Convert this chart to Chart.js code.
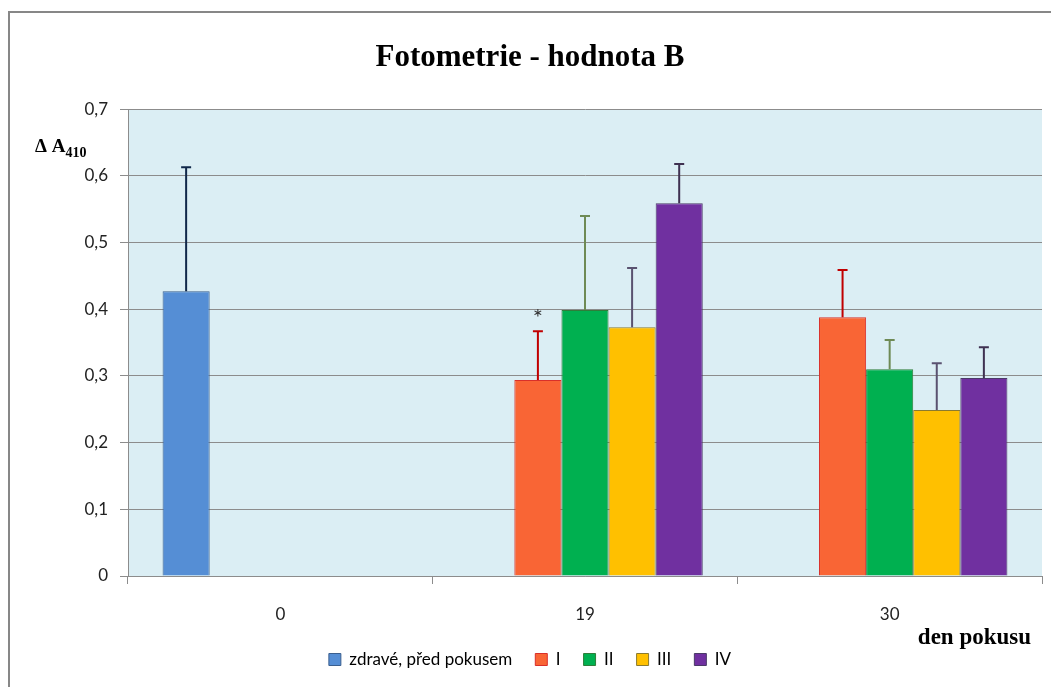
<!DOCTYPE html>
<html>
<head>
<meta charset="utf-8">
<script src="https://cdn.jsdelivr.net/npm/chart.js@4"></script>
<style>
  html, body { margin: 0; padding: 0; background: #ffffff; }
  #wrap { width: 1051px; height: 687px; position: relative; }
</style>
</head>
<body>
<div id="wrap"><canvas id="chart"></canvas></div>
<script>
// categories = day of the experiment
const days = ['0', '19', '30'];
const seriesNames = ['zdravé, před pokusem', 'I', 'II', 'III', 'IV'];

// mean values per series (null = no bar)
const healthy = [0.427, null, null];
const groupI = [null, 0.294, 0.388];
const groupII = [null, 0.399, 0.310];
const groupIII = [null, 0.373, 0.249];
const groupIV = [null, 0.559, 0.297];

// upper end of error bars
const healthyErr = [0.613, null, null];
const groupIErr = [null, 0.367, 0.459];
const groupIIErr = [null, 0.540, 0.354];
const groupIIIErr = [null, 0.462, 0.319];
const groupIVErr = [null, 0.618, 0.343];

const yTicks = [0, 0.1, 0.2, 0.3, 0.4, 0.5, 0.6, 0.7];

const fills = ['#558ed5', '#f96535', '#00b050', '#ffc000', '#7030a0'];
const borders = ['#3a5f8f', '#d9302a', '#2f7d3a', '#8a7a30', '#4b3a68'];
const errColors = ['#10284a', '#c00000', '#6e8a55', '#5a5270', '#3f3151'];

const values = [healthy, groupI, groupII, groupIII, groupIV];
const errs = [healthyErr, groupIErr, groupIIErr, groupIIIErr, groupIVErr];

const sansFont = 'Lato, "Liberation Sans", sans-serif';
const serifFont = '"Liberation Serif", "DejaVu Serif", serif';

// light blue plot background + outer frame
const backgroundPlugin = {
  id: 'plotBackground',
  beforeDraw(chart) {
    const {ctx, chartArea} = chart;
    ctx.save();
    ctx.fillStyle = '#ffffff';
    ctx.fillRect(0, 0, chart.width, chart.height);
    ctx.fillStyle = '#dbeef4';
    ctx.fillRect(chartArea.left, chartArea.top, chartArea.right - chartArea.left, chartArea.bottom - chartArea.top);
    ctx.strokeStyle = '#878787';
    ctx.lineWidth = 2;
    ctx.beginPath();
    ctx.moveTo(9, chart.height);
    ctx.lineTo(9, 12);
    ctx.lineTo(chart.width, 12);
    ctx.stroke();
    ctx.restore();
  }
};

// upward error bars, axis titles and significance star
const errorBarPlugin = {
  id: 'errorBars',
  afterDatasetsDraw(chart) {
    const {ctx} = chart;
    const yScale = chart.scales.y;
    const xScale = chart.scales.x;
    ctx.save();
    errs.forEach((errArr, di) => {
      const meta = chart.getDatasetMeta(di);
      errArr.forEach((e, i) => {
        if (e === null) return;
        const bar = meta.data[i];
        const yTop = yScale.getPixelForValue(e);
        ctx.strokeStyle = errColors[di];
        ctx.lineWidth = 2;
        ctx.beginPath();
        ctx.moveTo(bar.x, bar.y);
        ctx.lineTo(bar.x, yTop);
        ctx.moveTo(bar.x - 5, yTop);
        ctx.lineTo(bar.x + 5, yTop);
        ctx.stroke();
      });
    });

    // star over group I on day 19
    const starBar = chart.getDatasetMeta(1).data[1];
    ctx.fillStyle = '#333333';
    ctx.font = '24px ' + sansFont;
    ctx.textAlign = 'center';
    ctx.textBaseline = 'middle';
    ctx.fillText('*', starBar.x, yScale.getPixelForValue(groupIErr[1]) - 13);

    // y axis title: Δ A with subscript 410
    ctx.fillStyle = '#000000';
    ctx.textAlign = 'left';
    ctx.textBaseline = 'alphabetic';
    ctx.font = 'bold 19px ' + serifFont;
    ctx.fillText('Δ A', 35, 152);
    const w = ctx.measureText('Δ A').width;
    ctx.font = 'bold 14px ' + serifFont;
    ctx.fillText('410', 35 + w, 157);

    // x axis title
    ctx.font = 'bold 23px ' + serifFont;
    ctx.textAlign = 'right';
    ctx.textBaseline = 'middle';
    ctx.fillText('den pokusu', xScale.right - 11, 638);
    ctx.restore();
  }
};

const datasets = values.map((v, i) => ({
  label: seriesNames[i],
  data: v,
  backgroundColor: fills[i],
  borderColor: borders[i],
  borderWidth: 1,
  categoryPercentage: 0.773,
  barPercentage: 1.0
}));

new Chart(document.getElementById('chart'), {
  type: 'bar',
  data: {
    labels: days,
    datasets: datasets
  },
  options: {
    responsive: true,
    maintainAspectRatio: false,
    animation: false,
    layout: {
      padding: { left: 18, right: 9, top: 0, bottom: 9 }
    },
    plugins: {
      title: {
        display: true,
        text: 'Fotometrie - hodnota B',
        color: '#000000',
        font: { family: serifFont, size: 31, weight: 'bold', lineHeight: 1.2 },
        padding: { top: 39, bottom: 33 }
      },
      legend: {
        position: 'bottom',
        labels: {
          color: '#000000',
          font: { family: sansFont, size: 17 },
          boxWidth: 12,
          boxHeight: 12,
          padding: 23
        }
      },
      tooltip: { enabled: false }
    },
    scales: {
      x: {
        grid: {
          offset: true,
          drawOnChartArea: false,
          tickLength: 8,
          color: '#8c8c8c'
        },
        border: { color: '#8c8c8c' },
        ticks: {
          color: '#222222',
          font: { family: sansFont, size: 17 },
          padding: 20
        },
        afterFit(scale) { scale.height = 52; }
      },
      y: {
        min: 0,
        max: 0.7,
        afterBuildTicks(scale) {
          scale.ticks = yTicks.map(v => ({ value: v }));
        },
        grid: {
          color: '#8c8c8c',
          tickLength: 8
        },
        border: { color: '#8c8c8c' },
        ticks: {
          color: '#222222',
          font: { family: sansFont, size: 17 },
          padding: 12,
          callback: v => String(Math.round(v * 10) / 10).replace('.', ',')
        },
        afterFit(scale) { scale.width = 110; }
      }
    }
  },
  plugins: [backgroundPlugin, errorBarPlugin]
});
</script>
</body>
</html>
